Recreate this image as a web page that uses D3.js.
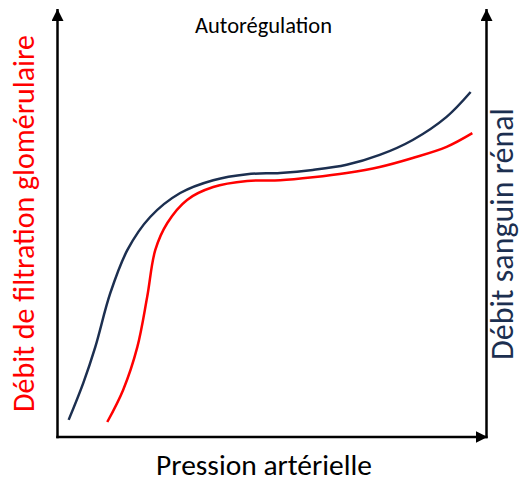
<!DOCTYPE html>
<html>
<head>
<meta charset="utf-8">
<script src="https://cdn.jsdelivr.net/npm/d3@7"></script>
<style>
  html, body { margin: 0; padding: 0; background: #fff; }
  text { font-family: Carlito, Lato, "Open Sans", sans-serif; }
</style>
</head>
<body>
<svg id="chart" width="523" height="483"></svg>
<script>
// Curves (arbitrary units 0-100 on both axes)
const rbfPressure = [2.6, 6.0, 8.8, 12.3, 16.3, 21.6, 28.6, 36.3, 44.2, 51.9, 59.5, 67.4, 75.1, 82.8, 90.7, 96.3];
const rbfFlow = [4.0, 12.6, 21.0, 33.6, 43.7, 51.4, 57.0, 60.0, 61.4, 61.7, 62.4, 63.6, 65.9, 69.4, 74.8, 80.6];

const gfrPressure = [11.6, 15.3, 18.6, 20.9, 22.8, 25.6, 30.2, 36.3, 44.2, 51.9, 59.5, 67.4, 75.1, 82.8, 90.7, 96.7];
const gfrFlow = [3.5, 11.0, 21.0, 32.7, 43.7, 50.0, 55.4, 58.4, 59.8, 60.0, 60.7, 61.7, 63.1, 65.2, 67.8, 71.0];

const title = 'Autorégulation';
const xLabel = 'Pression artérielle';
const yLeftLabel = 'Débit de filtration glomérulaire';
const yRightLabel = 'Débit sanguin rénal';

const navy = '#1c2f50';
const red = '#ff0000';

const svg = d3.select('#chart');

const x = d3.scaleLinear().domain([0, 100]).range([57.5, 486.5]);
const y = d3.scaleLinear().domain([0, 100]).range([437, 9]);

// arrow heads
const defs = svg.append('defs');
defs.append('marker')
  .attr('id', 'arrow')
  .attr('viewBox', '0 0 12 12')
  .attr('refX', 12)
  .attr('refY', 6)
  .attr('markerWidth', 12)
  .attr('markerHeight', 12)
  .attr('markerUnits', 'userSpaceOnUse')
  .attr('orient', 'auto')
  .append('path')
  .attr('d', 'M0,0 L12,6 L0,12 Z')
  .attr('fill', '#000');

const axes = svg.append('g')
  .attr('stroke', '#000')
  .attr('stroke-width', 2.5)
  .attr('fill', 'none');

// left axis
axes.append('line')
  .attr('x1', x(0)).attr('y1', y(0) + 1.2)
  .attr('x2', x(0)).attr('y2', y(100))
  .attr('marker-end', 'url(#arrow)');
// bottom axis
axes.append('line')
  .attr('x1', x(0) - 1.2).attr('y1', y(0))
  .attr('x2', x(100) + 1).attr('y2', y(0))
  .attr('marker-end', 'url(#arrow)');
// right axis
axes.append('line')
  .attr('x1', x(100)).attr('y1', y(0) + 1.2)
  .attr('x2', x(100)).attr('y2', y(100))
  .attr('marker-end', 'url(#arrow)');

const line = d3.line()
  .x(d => x(d[0]))
  .y(d => y(d[1]))
  .curve(d3.curveCatmullRom.alpha(0.5));

const series = [
  { p: rbfPressure, f: rbfFlow, color: navy },
  { p: gfrPressure, f: gfrFlow, color: red },
];

series.forEach(s => {
  svg.append('path')
    .datum(d3.zip(s.p, s.f))
    .attr('d', line)
    .attr('fill', 'none')
    .attr('stroke', s.color)
    .attr('stroke-width', 2.5)
    .attr('stroke-linecap', 'butt');
});

// fit a label to a given length by adjusting its font size
const fitText = (sel, target) => {
  const len = sel.node().getComputedTextLength();
  const fs = parseFloat(sel.attr('font-size'));
  sel.attr('font-size', (fs * target / len).toFixed(2));
};

const tTitle = svg.append('text')
  .attr('x', 263.5).attr('y', 33)
  .attr('text-anchor', 'middle')
  .attr('font-size', 20)
  .attr('fill', '#000')
  .text(title);
fitText(tTitle, 137);

const tX = svg.append('text')
  .attr('x', 264).attr('y', 475)
  .attr('text-anchor', 'middle')
  .attr('font-size', 28)
  .attr('fill', '#000')
  .text(xLabel);
fitText(tX, 216);

const tLeft = svg.append('text')
  .attr('transform', 'translate(34,223.5) rotate(-90)')
  .attr('text-anchor', 'middle')
  .attr('font-size', 28)
  .attr('fill', red)
  .text(yLeftLabel);
fitText(tLeft, 377);

const tRight = svg.append('text')
  .attr('transform', 'translate(513,234) rotate(-90)')
  .attr('text-anchor', 'middle')
  .attr('font-size', 28)
  .attr('fill', navy)
  .text(yRightLabel);
fitText(tRight, 252);
</script>
</body>
</html>
